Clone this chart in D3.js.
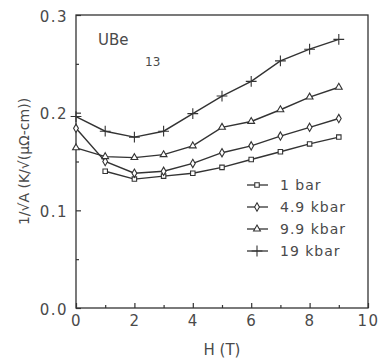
<!DOCTYPE html>
<html><head><meta charset="utf-8">
<script src="https://cdn.jsdelivr.net/npm/d3@7"></script>
<style>
body{margin:0;background:#fff;}
text{font-family:"DejaVu Sans",sans-serif;fill:#4a4a4a;}
</style></head>
<body><svg id="c" width="383" height="362"></svg>
<script>
const H = [0,1,2,3,4,5,6,7,8,9];
const bar1   = [null,0.140,0.132,0.135,0.138,0.144,0.152,0.160,0.168,0.175];
const kbar49 = [0.184,0.150,0.138,0.140,0.148,0.159,0.166,0.176,0.185,0.194];
const kbar99 = [0.164,0.155,0.154,0.157,0.166,0.185,0.191,0.203,0.216,0.226];
const kbar19 = [0.196,0.181,0.175,0.181,0.199,0.217,0.232,0.253,0.265,0.275];
const seriesNames = ["1 bar","4.9 kbar","9.9 kbar","19 kbar"];
const xTicks = [0,2,4,6,8,10];
const yTicks = [0.0,0.1,0.2,0.3];

const svg = d3.select("#c");
const L=76,R=368,T=15,B=308;
const x = d3.scaleLinear().domain([0,10]).range([L,R]);
const y = d3.scaleLinear().domain([0,0.3]).range([B,T]);
const ink="#333";

svg.append("rect").attr("x",L).attr("y",T).attr("width",R-L).attr("height",B-T)
  .attr("fill","none").attr("stroke",ink).attr("stroke-width",1.3);

const xa = svg.append("g").attr("transform",`translate(0,${B})`)
  .call(d3.axisBottom(x).tickValues(d3.range(0,11,1)).tickSize(0).tickFormat(""));
xa.select(".domain").remove();
xa.selectAll(".tick line").attr("y2",d=>d%2===0?-5:-3).attr("stroke",ink).attr("stroke-width",1.2);
xa.selectAll(".tick").filter(d=>xTicks.includes(d)).append("text")
  .attr("y",18).attr("text-anchor","middle").style("font-size","15px").style("letter-spacing","1.5px")
  .text(d=>d);

const ya = svg.append("g").attr("transform",`translate(${L},0)`)
  .call(d3.axisLeft(y).tickValues(d3.range(0,0.31,0.05)).tickSize(0).tickFormat(""));
ya.select(".domain").remove();
ya.selectAll(".tick line").attr("x2",(d,i)=>i%2===0?5:3).attr("stroke",ink).attr("stroke-width",1.2);
ya.selectAll(".tick").filter((d,i)=>i%2===0).append("text")
  .attr("x",-8).attr("dy","0.4em").attr("text-anchor","end").style("font-size","15px").style("letter-spacing","1.5px")
  .text(d=>d3.format(".1f")(d));

svg.append("text").attr("x",(L+R)/2).attr("y",355).attr("text-anchor","middle")
  .style("font-size","15px").text("H (T)");
svg.append("text").attr("transform",`translate(29,${(T+B)/2}) rotate(-90)`).attr("text-anchor","middle")
  .style("font-size","14px").text("1/√A (K/√(μΩ-cm))");
svg.append("text").attr("x",98).attr("y",45).style("font-size","15px").text("UBe");
svg.append("text").attr("x",145).attr("y",66).style("font-size","12px").text("13");

const series=[bar1,kbar49,kbar99,kbar19];
const syms=[d3.symbolSquare,d3.symbolDiamond,d3.symbolTriangle,d3.symbolPlus];
const line=d3.line().defined(d=>d[1]!=null).x(d=>x(d[0])).y(d=>y(d[1]));
function marker(sel,k){
  sel.attr("d",d3.symbol().type(syms[k]).size(k===3?40:20))
    .attr("fill",k===3?"none":"#fff").attr("stroke",ink).attr("stroke-width",1.1);
}
series.forEach((s,k)=>{
  const pts=H.map((h,i)=>[h,s[i]]);
  svg.append("path").datum(pts).attr("d",line).attr("fill","none").attr("stroke",ink).attr("stroke-width",1.4);
  svg.selectAll(null).data(pts.filter(d=>d[1]!=null)).enter().append("path")
    .attr("transform",d=>`translate(${x(d[0])},${y(d[1])})`).call(marker,k);
});

const legY=d3.scalePoint().domain(seriesNames).range([185,251]);
seriesNames.forEach((n,k)=>{
  const yy=legY(n);
  svg.append("line").attr("x1",247).attr("x2",268).attr("y1",yy).attr("y2",yy).attr("stroke",ink).attr("stroke-width",1.3);
  svg.append("path").attr("transform",`translate(257,${yy})`).call(marker,k);
  svg.append("text").attr("x",280).attr("y",yy).attr("dy","0.36em").style("font-size","14px").style("letter-spacing","1px").text(n);
});
</script></body></html>
